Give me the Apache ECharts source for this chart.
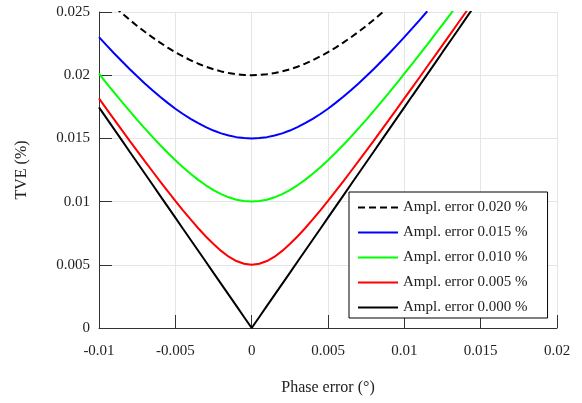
<!DOCTYPE html>
<html>
<head>
    <meta charset="utf-8">
    <title>TVE vs phase error</title>
    <style>
        html,body{width:100%;height:100%;margin:0;padding:0;overflow:hidden;background:#fff;}
        #main{width:582px;height:403px;}
    </style>
    <script src="https://cdn.jsdelivr.net/npm/echarts@6/dist/echarts.min.js"></script>
</head>
<body>
<div id="main"></div>
<script type="text/javascript">
    // phase error (deg), shared by all curves
    var phase = [
        -0.0100, -0.0095, -0.0090, -0.0085, -0.0080, -0.0075, -0.0070, -0.0065, -0.0060, -0.0055,
        -0.0050, -0.0045, -0.0040, -0.0035, -0.0030, -0.0025, -0.0020, -0.0015, -0.0010, -0.0005,
        0,
        0.0005, 0.0010, 0.0015, 0.0020, 0.0025, 0.0030, 0.0035, 0.0040, 0.0045, 0.0050,
        0.0055, 0.0060, 0.0065, 0.0070, 0.0075, 0.0080, 0.0085, 0.0090, 0.0095, 0.0100,
        0.0105, 0.0110, 0.0115, 0.0120, 0.0125, 0.0130, 0.0135, 0.0140, 0.0145, 0.0150
    ];

    // TVE (%)
    var tve020 = [
        0.02655, 0.02598, 0.02543, 0.02490, 0.02439, 0.02390, 0.02344, 0.02299, 0.02258, 0.02218,
        0.02182, 0.02149, 0.02118, 0.02091, 0.02067, 0.02047, 0.02030, 0.02017, 0.02008, 0.02002,
        0.02000,
        0.02002, 0.02008, 0.02017, 0.02030, 0.02047, 0.02067, 0.02091, 0.02118, 0.02149, 0.02182,
        0.02218, 0.02258, 0.02299, 0.02344, 0.02390, 0.02439, 0.02490, 0.02543, 0.02598, 0.02655,
        null, null, null, null, null, null, null, null, null, null
    ];
    var tve015 = [
        0.02301, 0.02236, 0.02172, 0.02110, 0.02049, 0.01991, 0.01935, 0.01881, 0.01829, 0.01781,
        0.01735, 0.01693, 0.01655, 0.01620, 0.01589, 0.01562, 0.01540, 0.01523, 0.01510, 0.01503,
        0.01500,
        0.01503, 0.01510, 0.01523, 0.01540, 0.01562, 0.01589, 0.01620, 0.01655, 0.01693, 0.01735,
        0.01781, 0.01829, 0.01881, 0.01935, 0.01991, 0.02049, 0.02110, 0.02172, 0.02236, 0.02301,
        0.02368, 0.02436, 0.02506, null, null, null, null, null, null, null
    ];
    var tve010 = [
        0.02012, 0.01936, 0.01862, 0.01789, 0.01718, 0.01647, 0.01579, 0.01512, 0.01448, 0.01386,
        0.01327, 0.01272, 0.01220, 0.01172, 0.01129, 0.01091, 0.01059, 0.01034, 0.01015, 0.01004,
        0.01000,
        0.01004, 0.01015, 0.01034, 0.01059, 0.01091, 0.01129, 0.01172, 0.01220, 0.01272, 0.01327,
        0.01386, 0.01448, 0.01512, 0.01579, 0.01647, 0.01718, 0.01789, 0.01862, 0.01936, 0.02012,
        0.02088, 0.02165, 0.02242, 0.02321, 0.02400, 0.02480, 0.02560, null, null, null
    ];
    var tve005 = [
        0.01816, 0.01732, 0.01649, 0.01566, 0.01483, 0.01401, 0.01320, 0.01240, 0.01160, 0.01082,
        0.01006, 0.00931, 0.00859, 0.00789, 0.00724, 0.00664, 0.00610, 0.00564, 0.00530, 0.00508,
        0.00500,
        0.00508, 0.00530, 0.00564, 0.00610, 0.00664, 0.00724, 0.00789, 0.00859, 0.00931, 0.01006,
        0.01082, 0.01160, 0.01240, 0.01320, 0.01401, 0.01483, 0.01566, 0.01649, 0.01732, 0.01816,
        0.01900, 0.01984, 0.02069, 0.02153, 0.02238, 0.02323, 0.02409, 0.02494, 0.02580, null
    ];
    var tve000 = [
        0.01745, 0.01658, 0.01571, 0.01484, 0.01396, 0.01309, 0.01222, 0.01135, 0.01047, 0.00960,
        0.00873, 0.00785, 0.00698, 0.00611, 0.00524, 0.00436, 0.00349, 0.00262, 0.00175, 0.00087,
        0,
        0.00087, 0.00175, 0.00262, 0.00349, 0.00436, 0.00524, 0.00611, 0.00698, 0.00785, 0.00873,
        0.00960, 0.01047, 0.01135, 0.01222, 0.01309, 0.01396, 0.01484, 0.01571, 0.01658, 0.01745,
        0.01833, 0.01920, 0.02007, 0.02094, 0.02182, 0.02269, 0.02356, 0.02444, 0.02531, null
    ];

    var seriesNames = [
        'Ampl. error 0.020 %',
        'Ampl. error 0.015 %',
        'Ampl. error 0.010 %',
        'Ampl. error 0.005 %',
        'Ampl. error 0.000 %'
    ];
    var xTicks = [-0.01, -0.005, 0, 0.005, 0.01, 0.015, 0.02];
    var yTicks = [0, 0.005, 0.01, 0.015, 0.02, 0.025];

    var font = '"Liberation Serif", "DejaVu Serif", serif';

    function pairs(vals) {
        return phase.map(function (p, i) { return [p, vals[i]]; });
    }

    function lineSeries(name, vals, color, type) {
        return {
            name: name,
            type: 'line',
            data: pairs(vals),
            symbol: 'none',
            clip: true,
            connectNulls: false,
            lineStyle: { color: color, width: 2, type: type || 'solid' },
            itemStyle: { color: color }
        };
    }

    function tickLabel(v) {
        return String(+v.toFixed(4));
    }

    var myChart = echarts.init(document.getElementById('main'), null, { renderer: 'canvas' });

    var option = {
        animation: false,
        backgroundColor: '#ffffff',
        grid: { left: 99, right: 25, top: 12, bottom: 75, containLabel: false },
        legend: {
            orient: 'vertical',
            left: 349,
            top: 192,
            padding: [8, 20, 3, 8],
            itemWidth: 40,
            itemHeight: 14,
            itemGap: 10,
            backgroundColor: '#ffffff',
            borderColor: '#000000',
            borderWidth: 1,
            borderRadius: 0,
            itemStyle: { opacity: 0 },
            textStyle: { fontFamily: font, fontSize: 15, color: '#222' },
            data: seriesNames
        },
        xAxis: {
            type: 'value',
            min: xTicks[0],
            max: xTicks[xTicks.length - 1],
            interval: 0.005,
            name: 'Phase error (°)',
            nameLocation: 'middle',
            nameGap: 52,
            nameTextStyle: { fontFamily: font, fontSize: 16, color: '#222' },
            axisLine: { show: true, onZero: false, lineStyle: { color: '#333', width: 1 } },
            axisTick: { show: true, inside: true, length: 13, lineStyle: { color: '#333' } },
            axisLabel: { margin: 16, fontFamily: font, fontSize: 15, color: '#222', formatter: tickLabel },
            splitLine: { show: true, lineStyle: { color: '#e5e5e5', width: 1 } }
        },
        yAxis: {
            type: 'value',
            min: yTicks[0],
            max: yTicks[yTicks.length - 1],
            interval: 0.005,
            name: 'TVE (%)',
            nameLocation: 'middle',
            nameGap: 69,
            nameTextStyle: { fontFamily: font, fontSize: 16, color: '#222' },
            axisLine: { show: true, onZero: false, lineStyle: { color: '#333', width: 1 } },
            axisTick: { show: true, inside: true, length: 13, lineStyle: { color: '#333' } },
            axisLabel: { margin: 9, fontFamily: font, fontSize: 15, color: '#222', formatter: tickLabel },
            splitLine: { show: true, lineStyle: { color: '#e5e5e5', width: 1 } }
        },
        series: [
            lineSeries(seriesNames[0], tve020, '#000000', [7, 4]),
            lineSeries(seriesNames[1], tve015, '#0000ff'),
            lineSeries(seriesNames[2], tve010, '#00ff00'),
            lineSeries(seriesNames[3], tve005, '#ff0000'),
            lineSeries(seriesNames[4], tve000, '#000000')
        ]
    };

    myChart.setOption(option);
</script>
</body>
</html>
